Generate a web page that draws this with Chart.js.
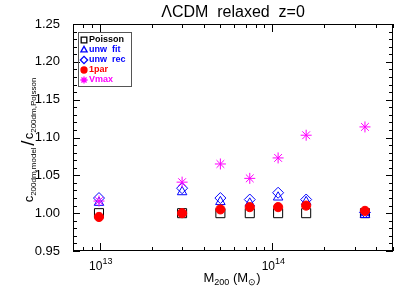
<!DOCTYPE html>
<html>
<head>
<meta charset="utf-8">
<script src="https://cdn.jsdelivr.net/npm/chart.js@4.4.1/dist/chart.umd.min.js"></script>
<style>
  html, body { margin: 0; padding: 0; background: #fff; }
</style>
</head>
<body>
<canvas id="c" width="415" height="297"></canvas>
<script>
// halo mass bins and the ratio of each model to Poisson
const masses  = [9.9e12, 3.0e13, 5.0e13, 7.4e13, 1.08e14, 1.57e14, 3.44e14];
const poisson = [1.000, 1.000, 1.000, 1.000, 1.000, 1.000, 1.000];
const unwFit  = [1.014, 1.028, 1.015, 1.013, 1.021, 1.015, 0.998];
const unwRec  = [1.020, 1.033, 1.020, 1.018, 1.027, 1.018, 1.001];
const onePar  = [0.995, 1.000, 1.005, 1.008, 1.008, 1.010, 1.003];
const vmax    = [1.016, 1.041, 1.065, 1.046, 1.073, 1.103, 1.114];

const yTicks = [0.95, 1.00, 1.05, 1.10, 1.15, 1.20, 1.25];
const xLabels = [[1e13, "13"], [1e14, "14"]];

const FONT = "'Liberation Sans', Arial, sans-serif";

const pts = arr => arr.map((v, i) => ({ x: masses[i], y: v }));

// minor tick values
const yMinor = [];
for (let i = 0; i <= 30; i++) yMinor.push(0.95 + i * 0.01);
const xMinor = [];
[1e12, 1e13, 1e14].forEach(d => { for (let k = 1; k <= 9; k++) xMinor.push(k * d); });

function sub(ctx, parts, x, y) {
  // parts: [text, size, dy]
  parts.forEach(p => {
    ctx.font = p[1] + "px " + FONT;
    ctx.fillText(p[0], x, y + p[2]);
    x += ctx.measureText(p[0]).width;
  });
}
function subWidth(ctx, parts) {
  let w = 0;
  parts.forEach(p => { ctx.font = p[1] + "px " + FONT; w += ctx.measureText(p[0]).width; });
  return w;
}

const frame = {
  id: "frame",
  afterDraw(chart) {
    const ctx = chart.ctx;
    const a = chart.chartArea;
    const xs = chart.scales.x, ys = chart.scales.y;
    ctx.save();
    ctx.strokeStyle = "#000";
    ctx.lineWidth = 1;
    ctx.strokeRect(Math.round(a.left) + 0.5, Math.round(a.top) + 0.5,
                   Math.round(a.right - a.left) - 1, Math.round(a.bottom - a.top) - 1);

    ctx.beginPath();
    yMinor.forEach(v => {
      const py = Math.round(ys.getPixelForValue(v)) + 0.5;
      const major = yTicks.some(t => Math.abs(t - v) < 1e-6);
      const L = major ? 7 : 4;
      ctx.moveTo(a.left, py); ctx.lineTo(a.left + L, py);
      ctx.moveTo(a.right, py); ctx.lineTo(a.right - L, py);
    });
    xMinor.forEach(v => {
      if (v < xs.min || v > xs.max) return;
      const px = Math.round(xs.getPixelForValue(v)) + 0.5;
      const major = xLabels.some(t => t[0] === v);
      const L = major ? 8 : 4;
      ctx.moveTo(px, a.bottom); ctx.lineTo(px, a.bottom - L);
      ctx.moveTo(px, a.top); ctx.lineTo(px, a.top + L);
    });
    ctx.stroke();

    ctx.fillStyle = "#000";
    ctx.textBaseline = "alphabetic";
    // x tick labels
    xLabels.forEach(t => {
      const px = xs.getPixelForValue(t[0]);
      const parts = [["10", 12, 0], [t[1], 9, -6]];
      sub(ctx, parts, px - subWidth(ctx, parts) / 2 + 1, a.bottom + 19);
    });
    // x title
    const xt = [["M", 13, 0], ["200", 9, 3], [" (M", 13, 0], ["\u2299", 9, 3], [")", 13, 0]];
    sub(ctx, xt, 232 - subWidth(ctx, xt) / 2, 282);

    // y title
    ctx.save();
    ctx.translate(33, 140);
    ctx.rotate(-Math.PI / 2);
    const yt = [["c", 13, 0], ["200dm,model", 8, 3], [" ", 6, 0], ["/", 19, 1], [" ", 4, 0],
                ["c", 13, 0], ["200dm,Poisson", 8, 3]];
    sub(ctx, yt, -subWidth(ctx, yt) / 2, 0);
    ctx.restore();

    // title
    ctx.font = "16px " + FONT;
    ctx.textAlign = "center";
    ctx.fillText("\u039BCDM  relaxed  z=0", 233, 17);
    ctx.textAlign = "left";

    // legend box
    ctx.strokeStyle = "#555";
    ctx.strokeRect(78.5, 32.5, 53, 54);
    chart.data.datasets.forEach((ds, i) => {
      const y = 40 + i * 10;
      ctx.strokeStyle = ds.borderColor;
      ctx.fillStyle = ds.backgroundColor;
      ctx.lineWidth = 1.3;
      Chart.helpers.drawPoint(ctx, { pointStyle: ds.pointStyle, radius: ds.legendRadius, borderWidth: 1.3, rotation: 0 }, 84, y);
      ctx.fillStyle = ds.borderColor;
      ctx.font = "bold 9px " + FONT;
      ctx.textBaseline = "middle";
      ctx.fillText(ds.label, 89, y);
    });
    ctx.restore();
  }
};

new Chart(document.getElementById("c"), {
  type: "scatter",
  data: {
    datasets: [
      { label: "Poisson", data: pts(poisson), pointStyle: "rect", pointRadius: 6.4, legendRadius: 4,
        borderColor: "#000000", backgroundColor: "rgba(0,0,0,0)", borderWidth: 1, order: 5 },
      { label: "unw  fit", data: pts(unwFit), pointStyle: "triangle", pointRadius: 5.5, legendRadius: 3.6,
        borderColor: "#0000ff", backgroundColor: "rgba(0,0,0,0)", borderWidth: 1, order: 4 },
      { label: "unw  rec", data: pts(unwRec), pointStyle: "rectRot", pointRadius: 5.5, legendRadius: 3.6,
        borderColor: "#0000ff", backgroundColor: "rgba(0,0,0,0)", borderWidth: 1, order: 3 },
      { label: "1par", data: pts(onePar), pointStyle: "circle", pointRadius: 4.6, legendRadius: 3,
        borderColor: "#ff0000", backgroundColor: "#ff0000", borderWidth: 1, order: 2 },
      { label: "Vmax", data: pts(vmax), pointStyle: "star", pointRadius: 5.5, legendRadius: 3.6,
        borderColor: "#ff00ff", backgroundColor: "rgba(0,0,0,0)", borderWidth: 1, order: 1 }
    ]
  },
  options: {
    responsive: false,
    animation: false,
    layout: { padding: { top: 24, right: 22, left: 0, bottom: 0 } },
    plugins: { legend: { display: false }, tooltip: { enabled: false } },
    scales: {
      x: {
        type: "logarithmic", min: 7e12, max: 5e14,
        grid: { display: false }, border: { display: false },
        ticks: { display: false },
        afterFit: s => { s.height = 46; }
      },
      y: {
        min: 0.95, max: 1.25,
        afterBuildTicks: s => { s.ticks = yTicks.map(v => ({ value: v })); },
        grid: { display: false }, border: { display: false },
        ticks: { callback: v => v.toFixed(2), color: "#000", padding: 5, font: { size: 13, family: FONT } },
        afterFit: s => { s.width = 73; }
      }
    }
  },
  plugins: [frame]
});
</script>
</body>
</html>
